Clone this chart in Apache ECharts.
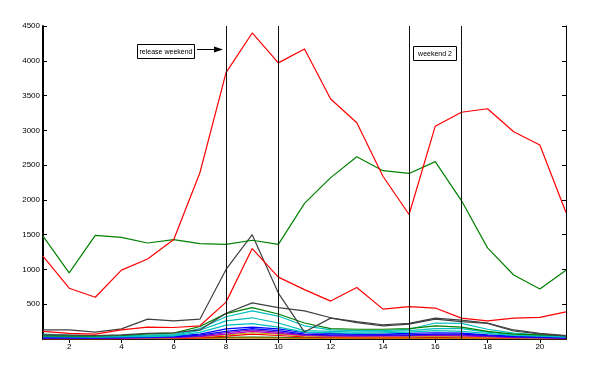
<!DOCTYPE html>
<html>
<head>
<meta charset="utf-8">
<script src="https://cdn.jsdelivr.net/npm/echarts@6/dist/echarts.min.js"></script>
<style>
  html, body { margin: 0; padding: 0; background: #fff; }
  #chart { width: 604px; height: 376px; }
</style>
</head>
<body>
<div id="chart"></div>
<script>
// days since release
var days = [1,2,3,4,5,6,7,8,9,10,11,12,13,14,15,16,17,18,19,20,21];
var weekendDays = [8, 10, 15, 17];
var yTicks = [500, 1000, 1500, 2000, 2500, 3000, 3500, 4000, 4500];

// big series
var redMain   = [1190,730,600,990,1150,1430,2390,3830,4400,3970,4170,3450,3110,2340,1790,3060,3260,3310,2980,2790,1820];
var greenMain = [1480,950,1490,1460,1380,1430,1370,1360,1420,1360,1950,2320,2620,2420,2380,2550,1990,1310,920,720,990];
var redSecond = [110,80,70,130,170,165,190,530,1300,890,710,545,740,430,465,445,300,260,300,310,390];
var graySpike = [130,130,100,145,285,260,285,1000,1500,660,100,300,250,205,225,300,270,230,130,80,50];
var grayTwo   = [60,55,50,60,80,90,130,370,520,450,405,305,235,190,215,285,250,225,115,72,42];

// the crowd of small titles
var green2  = [45,40,40,50,75,85,180,365,450,360,230,150,140,140,150,190,170,110,70,60,50];
var cyan1   = [70,55,45,45,55,65,150,320,405,330,190,130,120,120,140,230,225,140,85,60,40];
var cyan2   = [55,45,35,40,45,55,125,260,305,230,120,110,100,105,120,150,150,100,60,50,30];
var cyan3   = [35,30,25,30,35,45,95,200,220,170,100,90,80,90,100,120,110,80,50,40,25];
var blue1   = [25,22,20,25,30,40,70,145,170,145,90,80,70,70,80,90,85,60,40,30,20];
var blue2   = [15,15,15,20,25,30,55,110,150,120,70,60,60,60,60,70,70,50,35,25,15];
var purple1 = [12,10,10,15,20,25,40,90,130,100,60,50,45,50,50,60,55,40,25,20,12];
var magenta = [8,8,8,10,15,20,35,70,110,80,50,40,40,40,45,50,45,35,20,15,10];
var yellow1 = [6,5,5,8,10,15,30,60,90,70,45,35,30,30,35,40,35,25,15,10,8];
var red3    = [5,5,5,5,8,10,20,40,70,50,30,25,20,20,25,30,25,20,12,8,5];
var green3  = [12,12,10,10,12,12,15,22,28,22,16,15,13,13,14,16,13,11,9,8,7];
var orange1 = [3,3,3,3,4,5,8,12,16,12,8,7,6,6,7,8,7,5,4,3,3];

var seriesList = [
  { name: 'green3',  data: green3,  color: '#006400' },
  { name: 'orange1', data: orange1, color: '#cc7a00' },
  { name: 'red3',    data: red3,    color: '#ff0000' },
  { name: 'yellow1', data: yellow1, color: '#bfbf00' },
  { name: 'magenta', data: magenta, color: '#bf00bf' },
  { name: 'purple1', data: purple1, color: '#7f00bf' },
  { name: 'blue2',   data: blue2,   color: '#0000ff' },
  { name: 'blue1',   data: blue1,   color: '#0000ff' },
  { name: 'cyan3',   data: cyan3,   color: '#00bfbf' },
  { name: 'cyan2',   data: cyan2,   color: '#00bfbf' },
  { name: 'cyan1',   data: cyan1,   color: '#00bfbf' },
  { name: 'green2',  data: green2,  color: '#008000' },
  { name: 'grayTwo', data: grayTwo, color: '#404040' },
  { name: 'graySpike', data: graySpike, color: '#404040' },
  { name: 'redSecond', data: redSecond, color: '#ff0000' },
  { name: 'greenMain', data: greenMain, color: '#008000' },
  { name: 'redMain',   data: redMain,   color: '#ff0000' }
];

var cats = days.map(String);
var evenOnly = function (idx, val) { return Number(val) % 2 === 0; };
var tickFont = { color: '#000', fontSize: 8, fontFamily: 'Liberation Sans, Arial, sans-serif' };

var series = seriesList.map(function (s) {
  return {
    name: s.name,
    type: 'line',
    data: s.data,
    symbol: 'none',
    silent: true,
    lineStyle: { width: 1.2, color: s.color },
    itemStyle: { color: s.color }
  };
});

// weekend marker lines
series[series.length - 1].markLine = {
  silent: true,
  symbol: 'none',
  label: { show: false },
  lineStyle: { color: '#111', width: 1, type: 'solid' },
  data: weekendDays.map(function (d) { return { xAxis: String(d) }; })
};

var chart = echarts.init(document.getElementById('chart'));
chart.setOption({
  animation: false,
  backgroundColor: '#fff',
  grid: { left: 43, right: 38, top: 26, bottom: 37 },
  xAxis: [
    {
      type: 'category',
      data: cats,
      boundaryGap: false,
      position: 'bottom',
      axisLine: { lineStyle: { color: '#000', width: 1 } },
      axisTick: { inside: true, length: 4, interval: evenOnly, lineStyle: { color: '#000' } },
      axisLabel: Object.assign({ interval: evenOnly, margin: 4 }, tickFont),
      splitLine: { show: false }
    },
    {
      type: 'category',
      data: cats,
      boundaryGap: false,
      position: 'top',
      axisLine: { lineStyle: { color: '#000', width: 1 } },
      axisTick: { inside: true, length: 4, interval: evenOnly, lineStyle: { color: '#000' } },
      axisLabel: { show: false },
      splitLine: { show: false }
    }
  ],
  yAxis: [
    {
      type: 'value',
      min: 0,
      max: 4500,
      interval: 500,
      position: 'left',
      axisLine: { show: true, lineStyle: { color: '#000', width: 2 } },
      axisTick: { show: true, inside: true, length: 4, lineStyle: { color: '#000' } },
      axisLabel: Object.assign({
        margin: 3,
        formatter: function (v) { return yTicks.indexOf(v) >= 0 ? String(v) : ''; }
      }, tickFont),
      splitLine: { show: false }
    },
    {
      type: 'value',
      min: 0,
      max: 4500,
      interval: 500,
      position: 'right',
      axisLine: { show: true, lineStyle: { color: '#000', width: 1 } },
      axisTick: { show: true, inside: true, length: 4, lineStyle: { color: '#000' } },
      axisLabel: { show: false },
      splitLine: { show: false }
    }
  ],
  series: series,
  graphic: [
    {
      type: 'rect',
      shape: { x: 137.5, y: 44.5, width: 57, height: 14 },
      style: { fill: '#fff', stroke: '#000', lineWidth: 1 },
      z: 100
    },
    {
      type: 'text',
      style: { x: 166, y: 52, text: 'release weekend', fill: '#000', font: '7px Liberation Sans, Arial, sans-serif', align: 'center', verticalAlign: 'middle' },
      z: 101
    },
    {
      type: 'line',
      shape: { x1: 197, y1: 49.5, x2: 216, y2: 49.5 },
      style: { stroke: '#000', lineWidth: 1 },
      z: 100
    },
    {
      type: 'polygon',
      shape: { points: [[223, 49.5], [214, 46.5], [214, 52.5]] },
      style: { fill: '#000' },
      z: 100
    },
    {
      type: 'rect',
      shape: { x: 413.5, y: 46.5, width: 43, height: 14 },
      style: { fill: '#fff', stroke: '#000', lineWidth: 1 },
      z: 100
    },
    {
      type: 'text',
      style: { x: 435, y: 54, text: 'weekend 2', fill: '#000', font: '7px Liberation Sans, Arial, sans-serif', align: 'center', verticalAlign: 'middle' },
      z: 101
    }
  ]
});
</script>
</body>
</html>
